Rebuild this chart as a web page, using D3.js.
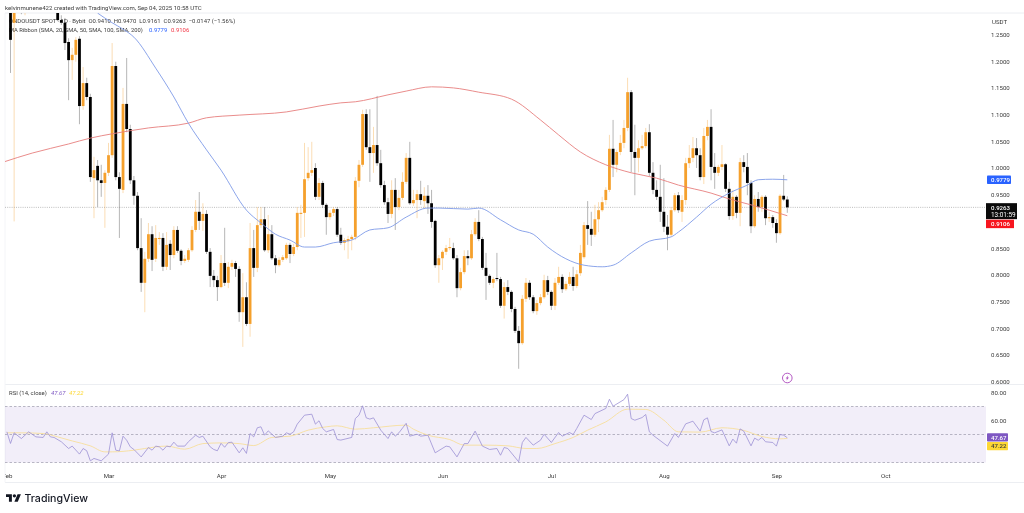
<!DOCTYPE html>
<html><head><meta charset="utf-8">
<script src="https://d3js.org/d3.v7.min.js"></script>
<style>html,body{margin:0;padding:0;background:#fff;overflow:hidden}svg{display:block;filter:blur(.35px)}text{font-family:Roboto,"Liberation Sans",sans-serif}</style>
</head><body><svg id="c" width="1024" height="513"></svg>
<script>
const opens=[1.30,1.272,1.31,1.33,1.31,1.33,1.36,1.34,1.35,1.37,
1.33,1.32,1.34,1.30,1.277,1.272,1.236,1.202,1.212,1.242,
1.116,1.159,1.133,.981,1.004,.977,.972,.991,1.024,1.191,
.983,.959,1.120,1.073,.977,.948,.850,.785,.830,.876,
.830,.867,.869,.815,.858,.837,.884,.845,.826,.828,
.846,.884,.918,.901,.914,.843,.798,.790,.777,.822,
.785,.815,.822,.811,.730,.758,.708,.850,.813,.893,
.904,.846,.876,.831,.818,.828,.831,.856,.839,.852,
.914,.916,.981,.991,1.000,.946,.972,.931,.908,.916,
.923,.875,.860,.863,.867,.871,.976,1.006,1.101,1.039,
1.028,1.043,1.009,.968,.936,.914,.959,.927,.944,.974,
1.019,.934,.940,.951,.938,.948,.934,.901,.818,.831,
.843,.850,.850,.831,.775,.805,.835,.831,.876,.899,
.867,.813,.798,.785,.794,.792,.742,.777,.768,.736,
.695,.672,.755,.785,.758,.732,.747,.758,.790,.768,
.742,.785,.796,.773,.783,.796,.779,.803,.833,.893,
.886,.875,.904,.921,.940,.959,1.036,1.006,1.030,1.047,
1.075,1.142,1.030,1.019,1.037,1.041,1.067,.991,.959,.946,
.918,.890,.875,.921,.949,.918,.940,1.009,1.019,1.037,
1.024,.983,1.060,1.077,1.002,.991,1.002,1.007,.961,.910,
.946,.916,1.011,1.002,.972,.891,.942,.927,.946,.906,
.908,.897,.878,.948,.941];
const highs=[1.34,1.33,1.35,1.36,1.34,1.38,1.39,1.37,1.38,1.39,
1.36,1.35,1.36,1.32,1.286,1.281,1.243,1.225,1.245,1.247,
1.189,1.169,1.139,1.021,1.015,1.006,.996,1.047,1.234,1.199,
.992,1.150,1.206,1.081,.985,.955,.906,.843,.897,.891,
.893,.880,.878,.880,.865,.891,.891,.848,.837,.850,
.891,.940,.955,.934,.921,.850,.809,.798,.837,.888,
.824,.828,.826,.816,.803,.786,.897,.884,.927,.927,
.927,.912,.893,.837,.833,.837,.860,.860,.858,.927,
.931,1.047,1.039,1.049,1.009,.981,.976,.934,.921,.927,
.927,.888,.869,.873,.875,.983,1.015,1.109,1.110,1.110,
1.077,1.135,1.034,.976,.944,.977,.981,.959,.992,1.028,
1.049,.959,.959,.976,.964,.968,.959,.903,.837,.846,
.856,.869,.860,.837,.813,.846,.846,.884,.906,.921,
.871,.841,.801,.796,.841,.796,.786,.790,.771,.740,
.704,.762,.794,.790,.762,.753,.764,.800,.798,.771,
.794,.815,.801,.788,.805,.815,.809,.856,.899,.938,
.918,.931,.936,.946,.964,1.062,1.090,1.034,1.062,1.090,
1.169,1.146,1.081,1.052,1.062,1.075,1.082,1.011,.977,1.006,
.981,.912,.927,.953,.955,.949,1.019,1.043,1.058,1.056,
1.037,1.075,1.090,1.110,1.028,1.006,1.043,1.009,.974,.959,
.949,1.019,1.024,1.028,.977,.949,.955,.949,.949,.918,
.912,.904,.951,.987,.947];
const lows=[1.178,.900,1.30,1.288,1.286,1.31,1.33,1.32,1.33,1.32,
1.31,1.30,1.30,1.275,1.268,1.221,1.127,1.165,1.199,1.082,
1.109,1.127,.974,.906,.927,.946,.888,.985,1.019,.977,
.869,.953,1.067,.970,.931,.846,.768,.730,.824,.807,
.824,.856,.807,.809,.809,.831,.841,.818,.822,.824,
.843,.880,.884,.882,.839,.777,.777,.751,.775,.779,
.775,.809,.796,.712,.665,.704,.684,.796,.805,.888,
.843,.841,.828,.803,.815,.824,.828,.822,.835,.846,
.869,.871,.976,.985,.940,.940,.925,.875,.903,.910,
.871,.856,.846,.830,.846,.865,.964,1.002,1.034,.974,
.991,1.004,.963,.931,.897,.906,.884,.921,.940,.970,
.931,.929,.906,.931,.925,.914,.888,.813,.785,.809,
.837,.846,.828,.758,.771,.801,.818,.828,.873,.863,
.809,.753,.781,.775,.788,.738,.718,.762,.730,.691,
.624,.669,.749,.753,.728,.725,.743,.755,.762,.734,
.734,.781,.766,.770,.779,.770,.775,.798,.830,.856,
.854,.871,.880,.918,.931,.955,.983,.992,1.024,1.037,
1.069,.992,.949,.992,1.034,1.037,.985,.951,.940,.899,
.880,.846,.871,.918,.916,.899,.931,1.000,1.011,1.000,
.977,.970,1.052,.977,.961,.985,.996,.955,.903,.903,
.906,.891,.992,.949,.878,.888,.918,.918,.893,.899,
.888,.860,.875,.938,.9161];
const closes=[1.240,1.31,1.33,1.31,1.33,1.36,1.34,1.35,1.37,1.33,
1.32,1.34,1.31,1.277,1.272,1.234,1.202,1.212,1.240,1.116,
1.159,1.133,.983,.996,.977,.972,.991,1.024,1.191,.983,
.961,1.120,1.073,.977,.948,.850,.785,.830,.876,.828,
.869,.869,.815,.856,.837,.884,.845,.826,.830,.846,
.884,.918,.901,.914,.843,.798,.790,.777,.822,.785,
.815,.822,.811,.730,.758,.708,.850,.813,.893,.904,
.846,.876,.831,.818,.828,.833,.856,.839,.852,.916,
.916,.979,.991,.996,.946,.972,.931,.908,.916,.923,
.875,.860,.865,.867,.871,.976,1.006,1.101,1.039,1.028,
1.043,1.009,.968,.936,.914,.959,.927,.944,.974,1.019,
.934,.940,.951,.940,.948,.934,.899,.818,.831,.843,
.850,.852,.831,.775,.805,.835,.831,.876,.899,.867,
.813,.798,.785,.792,.792,.742,.777,.768,.736,.695,
.672,.755,.785,.758,.732,.747,.758,.790,.768,.742,
.785,.796,.773,.783,.796,.779,.801,.841,.893,.886,
.875,.904,.921,.936,.959,1.036,1.006,1.030,1.047,1.075,
1.142,1.030,1.019,1.037,1.041,1.067,.991,.959,.946,.918,
.890,.875,.921,.949,.921,.940,1.009,1.019,1.037,1.024,
.983,1.060,1.077,1.002,.991,1.002,1.007,.961,.910,.946,
.916,1.011,1.002,.972,.891,.942,.927,.946,.906,.908,
.897,.878,.948,.941,.9263];

const sma50Days=[24,28,31,34,40,45,49,54,58,65,69,73,77,81,84,89,94,99,104,109,115,118,126,129,135,140,144,148,153,158,163,166,171,176,182,184,189,193,198,203,206,210,214];
const sma50Vals=[1.290,1.272,1.260,1.245,1.187,1.133,1.084,1.034,.996,.921,.897,.876,.865,.852,.852,.860,.865,.884,.888,.908,.925,.925,.923,.925,.903,.884,.876,.852,.830,.818,.815,.818,.841,.863,.871,.880,.908,.932,.953,.968,.978,.979,.9779];
const sma200Days=[-2,6,16,22,28,38,49,54,63,76,85,91,95,104,109,116,122,129,138,146,151,157,164,171,178,184,193,198,204,214];
const sma200Vals=[1.011,1.028,1.045,1.056,1.064,1.075,1.084,1.094,1.099,1.105,1.116,1.122,1.124,1.137,1.144,1.152,1.150,1.142,1.129,1.090,1.062,1.030,1.006,.991,.981,.968,.953,.942,.931,.9106];

const rsiDays=[-1,0,1,3,5,7,9,10,11,12,14,16,17,19,20,21,22,23,25,27,28,29,30,31,32,33,34,36,38,39,40,41,42,43,44,45,46,48,49,51,52,53,55,56,57,58,59,60,61,63,64,65,66,67,68,69,70,71,73,75,76,77,78,79,81,83,84,85,86,87,89,90,91,94,95,96,97,98,99,100,102,104,105,106,107,109,110,112,113,115,117,120,121,123,125,126,128,130,132,134,135,136,137,140,141,142,144,146,147,149,151,152,154,155,156,158,160,161,164,165,166,169,170,171,172,174,175,176,177,181,183,184,186,188,190,191,192,193,194,196,198,199,200,201,202,204,205,206,207,208,210,211,212,213,214];
const rsiVals=[51.9,43.6,51.2,47.1,51.9,48.3,47.9,51.9,48.3,47.9,44.8,40.0,41.7,36.0,40.0,38.4,31.2,32.9,31.2,36.0,51.2,38.8,38.3,48.8,45.9,41.2,39.3,34.0,40.7,38.8,41.7,41.2,38.8,41.7,41.2,44.5,41.7,41.7,44.8,49.5,47.9,48.8,41.2,39.3,38.4,43.7,40.9,44.2,44.5,36.9,40.5,36.5,50.7,48.3,54.8,55.5,49.5,52.6,47.9,48.8,51.2,50.2,51.9,57.4,63.8,64.5,57.4,59.8,54.3,51.9,53.6,46.4,46.0,47.9,61.4,63.8,70.5,61.9,61.0,61.9,53.1,47.1,51.9,48.8,51.2,58.0,48.8,50.2,48.8,49.5,36.9,41.7,41.2,34.0,43.5,43.5,52.4,41.7,39.3,40.0,35.2,40.7,40.0,30.5,44.3,47.9,42.4,45.9,50.2,44.3,51.4,48.8,51.4,50.0,54.3,63.8,60.7,64.9,68.6,75.2,70.2,74.9,78.8,61.4,60.2,62.1,64.3,51.9,49.5,41.7,50.7,47.9,57.6,59.5,52.4,60.5,61.9,52.1,51.2,53.3,41.9,46.7,43.8,54.0,52.4,41.9,47.4,45.9,47.9,44.8,44.3,41.7,50.0,49.5,47.67];
const rsiMaDays=[-1,3,9,13,17,22,26,28,34,37,43,48,53,58,63,67,72,77,82,87,90,95,100,109,111,115,121,125,131,137,142,145,150,155,159,164,170,175,180,184,190,196,202,207,212,214];
const rsiMaVals=[51.2,51.2,50.7,48.3,45.4,41.9,37.6,37.6,38.8,40.0,41.7,39.5,43.5,44.0,43.5,42.1,47.9,48.8,53.1,55.5,56.2,53.8,54.8,56.7,53.8,49.5,46.4,42.4,42.4,41.9,40.0,40.0,43.5,47.9,53.1,59.0,68.1,67.9,60.2,51.9,51.7,54.8,52.9,48.6,46.9,47.22];

const priceTicks=[1.25,1.2,1.15,1.1,1.05,1,.95,.85,.8,.75,.7,.65,.6];
const rsiTicks=[80,60];
const rsiLevels=[70,50,30];
const monthDays=[-1,27,58,88,119,149,180,211,241];
const monthLabels=["Feb","Mar","Apr","May","Jun","Jul","Aug","Sep","Oct"];
const titleText="kelvinmunene422 created with TradingView.com, Sep 04, 2025 10:58 UTC";
const legendText="ONDOUSDT SPOT · 1D · Bybit  O0.9410  H0.9470  L0.9161  C0.9263  −0.0147 (−1.56%)";
const ribbonText="MA Ribbon (SMA, 20, SMA, 50, SMA, 100, SMA, 200)";
const lastPrice=.9263, countdown="13:01:59", lastS50=.9779, lastS200=.9106, lastRsi=47.67, lastRsiMa=47.22;

const L=5,R=986,T=13,B=384.5,AX=482.5;
const svg=d3.select("#c");
const x=d3.scaleLinear().domain([0,214]).range([10.5,787.3]);
const y=d3.scaleLinear().domain([.6,1]).range([381.6,168]);
const yr=d3.scaleLinear().domain([30,70]).range([462.5,406.5]);
const UP="#f5a02c",DN="#000";
const days=d3.range(closes.length);

svg.append("defs").append("clipPath").attr("id","pc").append("rect").attr("x",L).attr("y",T).attr("width",R-L).attr("height",B-T);
svg.append("clipPath").attr("id","ac").append("rect").attr("x",L).attr("y",AX-14).attr("width",R-L).attr("height",14);

const frame=svg.append("g").attr("stroke","#eceef2").attr("stroke-width",1);
frame.append("line").attr("x1",L).attr("x2",1024).attr("y1",T).attr("y2",T);
frame.append("line").attr("x1",L).attr("x2",1024).attr("y1",B).attr("y2",B);
frame.append("line").attr("x1",L).attr("x2",1024).attr("y1",AX).attr("y2",AX);
frame.append("line").attr("x1",L).attr("x2",L).attr("y1",T).attr("y2",AX).attr("stroke","#f4f5f8");

const txt=(s,xx,yy,sz,fill,extra)=>{const t=svg.append("text").attr("x",xx).attr("y",yy).attr("font-size",sz).attr("fill",fill).text(s);if(extra)t.attr("font-style",extra);return t;};
txt(titleText,5,10.3,6.05,"#3c3c3c");
txt(legendText,9,22.8,5.95,"#3c3c3c").style("white-space","pre");
txt(ribbonText,9,31.5,5.8,"#3c3c3c");
txt(d3.format(".4f")(lastS50),149,31.5,5.95,"#2962ff");
txt(d3.format(".4f")(lastS200),171,31.5,5.95,"#f23645");
txt("RSI (14, close)",9,394.8,5.95,"#3c3c3c");
txt(lastRsi.toFixed(2),51,394.8,5.95,"#7e57c2","italic");
txt(lastRsiMa.toFixed(2),69,394.8,5.95,"#fdd835","italic");

svg.append("line").attr("x1",L).attr("x2",R).attr("y1",y(lastPrice)).attr("y2",y(lastPrice)).attr("stroke","#a0a0a0").attr("stroke-width",.7).attr("stroke-dasharray","1 1.2");

const pane=svg.append("g").attr("clip-path","url(#pc)");
pane.append("g").selectAll("line").data(days).join("line")
 .attr("x1",i=>x(i)).attr("x2",i=>x(i)).attr("y1",i=>y(highs[i])).attr("y2",i=>y(lows[i]))
 .attr("stroke",i=>closes[i]>=opens[i]?UP:"#333").attr("stroke-width",.8).attr("stroke-opacity",.45);
pane.append("g").selectAll("rect").data(days).join("rect")
 .attr("x",i=>x(i)-1.4).attr("width",2.8)
 .attr("y",i=>y(Math.max(opens[i],closes[i])))
 .attr("height",i=>Math.max(.8,Math.abs(y(opens[i])-y(closes[i]))))
 .attr("fill",i=>closes[i]>=opens[i]?UP:DN);

const lineP=d3.line().x(d=>x(d[0])).y(d=>y(d[1])).curve(d3.curveMonotoneX);
pane.append("path").attr("d",lineP(d3.zip(sma200Days,sma200Vals))).attr("fill","none").attr("stroke","#e77f7e").attr("stroke-width",.9);
pane.append("path").attr("d",lineP(d3.zip(sma50Days,sma50Vals))).attr("fill","none").attr("stroke","#7f9be8").attr("stroke-width",.9);

const ml=svg.append("g").attr("transform",`translate(${x(214)},${378})`);
ml.append("circle").attr("r",4.8).attr("fill","#fff").attr("stroke","#ab47bc").attr("stroke-width",.9);
ml.append("path").attr("d",d3.line()([[1,-2.8],[-1.6,.4],[-.1,.4],[-1,2.8],[1.6,-.5],[.1,-.5]])+"Z").attr("fill","#ab47bc");

svg.append("rect").attr("x",L).attr("width",R-L).attr("y",yr(70)).attr("height",yr(30)-yr(70)).attr("fill","#7e57c2").attr("fill-opacity",.1);
svg.append("g").selectAll("line").data(rsiLevels).join("line").attr("x1",L).attr("x2",R).attr("y1",d=>yr(d)).attr("y2",d=>yr(d)).attr("stroke","#9c99aa").attr("stroke-width",.7).attr("stroke-dasharray","2.5 2");
const lineR=d3.line().x(d=>x(d[0])).y(d=>yr(d[1]));
const rp=svg.append("g").attr("clip-path","url(#pc2)");
svg.select("defs").append("clipPath").attr("id","pc2").append("rect").attr("x",L).attr("y",B).attr("width",R-L).attr("height",AX-B);
rp.append("path").attr("d",lineR.curve(d3.curveMonotoneX)(d3.zip(rsiMaDays,rsiMaVals))).attr("fill","none").attr("stroke","#f7df9c").attr("stroke-width",.9);
rp.append("path").attr("d",lineR.curve(d3.curveLinear)(d3.zip(rsiDays,rsiVals))).attr("fill","none").attr("stroke","#9c90d4").attr("stroke-width",.8);

const styleAxis=g=>{g.select(".domain").remove();g.selectAll("line").remove();g.selectAll("text").attr("fill","#3a3a3a").attr("font-size",6.1).attr("font-family","Roboto,sans-serif");};
svg.append("g").attr("transform",`translate(${R+5},0)`).call(d3.axisRight(y).tickValues(priceTicks).tickFormat(d3.format(".4f")).tickSize(0).tickPadding(0)).call(styleAxis);
svg.append("g").attr("transform",`translate(${R+5},0)`).call(d3.axisRight(yr).tickValues(rsiTicks).tickFormat(d3.format(".2f")).tickSize(0).tickPadding(0)).call(styleAxis);
const xAxisScale=d3.scaleOrdinal().domain(monthLabels).range(monthDays.map(d=>x(d)));
svg.append("g").attr("clip-path","url(#ac)").append("g").attr("transform",`translate(0,473.5)`).call(d3.axisBottom(xAxisScale).tickSize(0).tickPadding(0)).call(styleAxis);
txt("USDT",992,24,6.1,"#3a3a3a");

const tag=(v,yy,fill,col,w)=>{svg.append("rect").attr("x",R+1).attr("y",yy-4.2).attr("width",w).attr("height",8.4).attr("fill",fill).attr("rx",.8);
 return svg.append("text").attr("x",R+5).attr("y",yy+2.2).attr("font-size",6.1).attr("font-weight",500).attr("fill",col).text(v);};
tag(lastS50.toFixed(4),y(lastS50),"#2962ff","#fff",24);
svg.append("rect").attr("x",R).attr("y",y(lastPrice)-4.2).attr("width",31).attr("height",16).attr("fill","#0b0b0b");
svg.append("text").attr("x",R+5).attr("y",y(lastPrice)+2.2).attr("font-size",6.1).attr("font-weight",500).attr("fill","#fff").text(lastPrice.toFixed(4));
svg.append("text").attr("x",R+5).attr("y",y(lastPrice)+9.6).attr("font-size",6.4).attr("fill","#fff").text(countdown);
svg.append("rect").attr("x",R).attr("y",y(lastS200)+4).attr("width",28).attr("height",8.4).attr("fill","#f7161f");
svg.append("text").attr("x",R+5).attr("y",y(lastS200)+10.4).attr("font-size",6.1).attr("font-weight",500).attr("fill","#fff").text(lastS200.toFixed(4));
tag(lastRsi.toFixed(2),yr(lastRsi)-.4,"#7e57c2","#fff",21);
tag(lastRsiMa.toFixed(2),yr(lastRsi)+8.4,"#fdd835","#3a3a3a",21);

const lg=svg.append("g").attr("transform","translate(6,492.5) scale(.42)");
lg.append("path").attr("d","M14 22H7V11H0V4h14v18zM28 22h-8l7.5-18h8L28 22z").attr("fill","#131722");
lg.append("circle").attr("cx",20).attr("cy",8).attr("r",4).attr("fill","#131722");
svg.append("text").attr("x",24.5).attr("y",501.5).attr("font-size",10.6).attr("font-weight",500).attr("fill","#131722").style("font-family","Inter,Roboto,sans-serif").text("TradingView");
</script></body></html>
